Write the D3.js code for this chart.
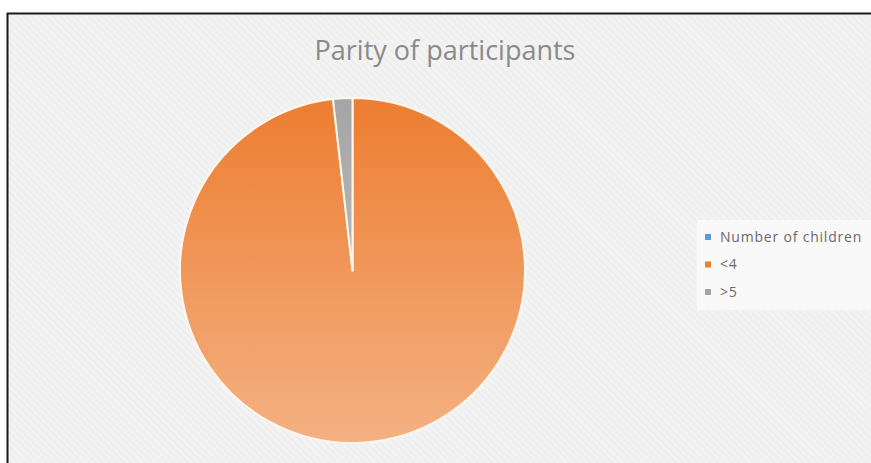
<!DOCTYPE html>
<html>
<head>
<meta charset="utf-8">
<script src="https://cdn.jsdelivr.net/npm/d3@7"></script>
<style>
  body { margin: 0; background: #fff; }
  svg { display: block; }
</style>
</head>
<body>
<script>
// chart data
let categories = ["Number of children", "<4", ">5"];
let counts = [0, 163, 3];
let sliceColors = ["#5b9bd5", "#ed7d31", "#a5a5a5"];
let sliceLight = ["#9dc3e6", "#f4b183", "#c9c9c9"];
let title = "Parity of participants";

let width = 871, height = 463;
let cx = 352.5, cy = 270.5, radius = 172.5;

let svg = d3.select("body").append("svg")
  .attr("width", width)
  .attr("height", height);

let defs = svg.append("defs");

// faint diagonal texture for the chart area
let pat = defs.append("pattern")
  .attr("id", "bgtex")
  .attr("patternUnits", "userSpaceOnUse")
  .attr("width", 5).attr("height", 5)
  .attr("patternTransform", "rotate(-45)");
pat.append("rect").attr("width", 5).attr("height", 5).attr("fill", "#f3f3f3");
pat.append("rect").attr("width", 1.5).attr("height", 5).attr("fill", "#ededed");

// vertical gradients for slices
categories.forEach(function(c, i){
  let g = defs.append("linearGradient")
    .attr("id", "grad" + i)
    .attr("gradientUnits", "userSpaceOnUse")
    .attr("x1", 0).attr("y1", -radius)
    .attr("x2", 0).attr("y2", radius);
  g.append("stop").attr("offset", "0%").attr("stop-color", sliceColors[i]);
  g.append("stop").attr("offset", "100%").attr("stop-color", sliceLight[i]);
});

// background + frame (top and left edges only)
svg.append("rect")
  .attr("x", 7).attr("y", 13)
  .attr("width", width - 7).attr("height", height - 13)
  .attr("fill", "url(#bgtex)");
svg.append("path")
  .attr("d", "M7.5," + height + " V13.5 H" + width)
  .attr("fill", "none")
  .attr("stroke", "#1a1a1a")
  .attr("stroke-width", 2);

// title
svg.append("text")
  .attr("x", 445)
  .attr("y", 60)
  .attr("text-anchor", "middle")
  .style("font-family", "'Open Sans', sans-serif")
  .style("font-size", "27px")
  .style("fill", "#8a8a8a")
  .text(title);

// pie
let pie = d3.pie().sort(null).value(function(d){ return d; });
let arc = d3.arc().innerRadius(0).outerRadius(radius);

let pieG = svg.append("g")
  .attr("transform", "translate(" + cx + "," + cy + ")");

pieG.selectAll("path")
  .data(pie(counts))
  .enter().append("path")
  .attr("d", arc)
  .attr("fill", function(d, i){ return "url(#grad" + i + ")"; })
  .attr("stroke", "#fff7ee")
  .attr("stroke-width", function(d){ return d.data > 0 ? 2 : 0; })
  .attr("stroke-linejoin", "round");

// legend
let legend = svg.append("g");
legend.append("rect")
  .attr("x", 697).attr("y", 220)
  .attr("width", 174).attr("height", 90)
  .attr("fill", "#f9f9f9");

let legY = d3.scalePoint().domain(categories).range([237, 292]);

legend.selectAll("rect.key")
  .data(categories)
  .enter().append("rect")
  .attr("class", "key")
  .attr("x", 705)
  .attr("y", function(d){ return legY(d) - 3; })
  .attr("width", 6).attr("height", 6)
  .attr("fill", function(d, i){ return sliceColors[i]; });

legend.selectAll("text")
  .data(categories)
  .enter().append("text")
  .attr("x", 720)
  .attr("y", function(d){ return legY(d); })
  .attr("dy", "0.35em")
  .style("font-family", "'Open Sans', sans-serif")
  .style("font-size", "14px")
  .style("letter-spacing", "0.8px")
  .style("fill", "#6a6a6a")
  .text(function(d){ return d; });
</script>
</body>
</html>
